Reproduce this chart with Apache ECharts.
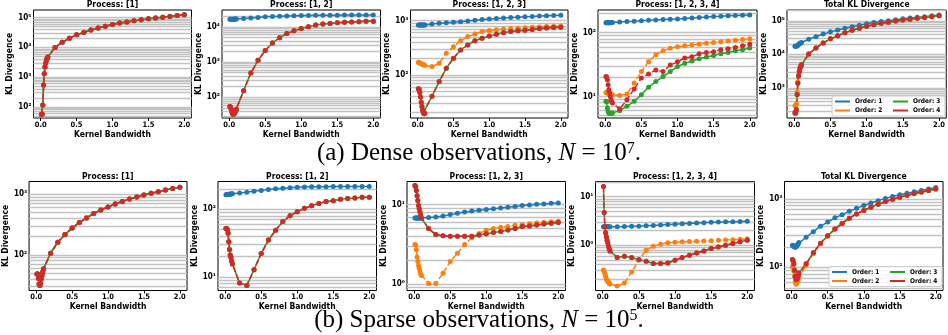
<!DOCTYPE html>
<html>
<head>
<meta charset="utf-8">
<script src="https://cdn.jsdelivr.net/npm/echarts@6/dist/echarts.min.js"></script>
<style>
  html, body { margin: 0; padding: 0; background: #fff; }
  #chart { width: 948px; height: 335px; }
</style>
</head>
<body>
<div id="chart"></div>
<script>
  // kernel bandwidths (x)
  const bandwidth = [0.01, 0.02, 0.03, 0.04, 0.05, 0.06, 0.07, 0.08, 0.09, 0.1,
    0.2, 0.3, 0.4, 0.5, 0.6, 0.7, 0.8, 0.9, 1.0, 1.1, 1.2, 1.3, 1.4, 1.5, 1.6, 1.7, 1.8, 1.9, 2.0];
  const xTicks = [0, 0.5, 1, 1.5, 2];
  const orderNames = ['Order: 1', 'Order: 2', 'Order: 3', 'Order: 4'];

  // (a) dense, N = 1e7
  const denseP1 = [55, 57, 115, 540, 1300, 2200, 3000, 3800, 4300, 4800,
    10000, 14800, 20500, 26500, 32000, 38500, 45000, 52000, 59000, 66000, 72000, 78500, 85000, 91500, 98000, 104000, 110000, 118000, 126000];
  const denseP12Order1 = [16300, 16300, 16300, 16400, 16400, 16500, 16500, 16600, 16600, 16700,
    17200, 17800, 18500, 19200, 19700, 20100, 20400, 20700, 20900, 21100, 21200, 21300, 21400, 21400, 21500, 21500, 21600, 21600, 21600];
  const denseP12Higher = [55, 52, 45, 37, 34, 33, 35, 38, 42, 46,
    155, 490, 1120, 2140, 3500, 4900, 6500, 7700, 9000, 10000, 11200, 12000, 12500, 13000, 13400, 13700, 14000, 14300, 14500];
  const denseP123Order1 = [833, 833, 833, 833, 834, 834, 835, 835, 836, 838,
    870, 900, 920, 935, 960, 990, 1020, 1050, 1075, 1100, 1120, 1145, 1165, 1185, 1200, 1220, 1240, 1255, 1270];
  const denseP123Order2 = [170, 168, 165, 162, 160, 158, 156, 154, 152, 150,
    142, 164, 250, 332, 427, 510, 570, 630, 660, 680, 700, 715, 728, 740, 755, 770, 782, 792, 800];
  const denseP123Higher = [55, 54, 47, 39, 31, 26, 22, 20, 19, 19.5,
    40, 75, 132, 203, 288, 356, 428, 475, 523, 560, 600, 630, 650, 670, 690, 715, 735, 750, 760];
  const denseP1234Order1 = [143, 143, 143, 143, 143, 143, 143, 144, 144, 144,
    147, 149, 151, 154, 156, 158, 160, 162, 164, 167, 170, 173, 175, 178, 180, 183, 185, 187, 189];
  const denseP1234Order2 = [11.5, 11.4, 11.3, 11.2, 11.1, 11.0, 10.9, 10.8, 10.7, 10.6,
    10.4, 10.9, 16.2, 24.5, 35, 45, 52, 57, 60, 62, 64, 66, 68, 70, 72, 74, 76, 78, 80];
  const denseP1234Order3 = [8.4, 8.2, 6.6, 5.8, 5.5, 5.4, 5.4, 5.4, 5.5, 5.5,
    6.0, 7.0, 8.4, 10.6, 14, 17.1, 20.5, 24.5, 29.4, 33, 36, 39, 41.5, 43.7, 46.5, 49, 52, 54, 57.5];
  const denseP1234Order4 = [20.5, 20.2, 18.2, 15.2, 12.7, 11.5, 10, 8.9, 8.3, 7.9,
    6.35, 8.9, 13.1, 19.4, 22.5, 26, 24.5, 31, 35, 40, 42, 46.5, 49, 50, 54, 56, 58.5, 62, 66];
  const denseTotalOrder1 = [17300, 17300, 17400, 17900, 18700, 19700, 20500, 21400, 21900, 22500,
    28200, 33600, 40100, 46800, 52800, 59700, 66600, 73900, 81100, 88400, 94500, 101100, 107700, 114300, 120900, 126900, 133000, 141000, 149000];
  const denseTotalOrder2 = [292, 288, 336, 750, 1510, 2400, 3200, 4000, 4510, 5010,
    10300, 15500, 21900, 29000, 36000, 44000, 52100, 60400, 68700, 76700, 84000, 91300, 98300, 105300, 112200, 118500, 124900, 133200, 141400];
  const denseTotalOrder3 = [173, 171, 214, 622, 1370, 2260, 3060, 3860, 4370, 4870,
    10200, 15400, 21800, 28900, 35800, 43800, 52000, 60200, 68600, 76600, 83800, 91200, 98200, 105200, 112100, 118500, 124800, 133100, 141300];
  const denseTotalOrder4 = [186, 183, 225, 630, 1380, 2270, 3070, 3870, 4370, 4870,
    10200, 15400, 21800, 28900, 35800, 43800, 52000, 60200, 68600, 76600, 83800, 91200, 98200, 105200, 112100, 118500, 124800, 133100, 141300];

  // (b) sparse, N = 1e5
  const sparseP1 = [48, 48, 41, 33, 31, 34, 40, 46, 52, 58,
    106, 161, 215, 277, 340, 405, 480, 550, 615, 690, 760, 830, 900, 970, 1040, 1100, 1170, 1240, 1300];
  const sparseP12Order1 = [164, 165, 165, 166, 166, 167, 167, 168, 169, 170,
    174, 179, 185, 190, 195, 200, 204, 208, 212, 214, 215, 215, 215, 216, 216, 216, 216, 216, 216];
  const sparseP12Higher = [52, 52, 50, 44, 33, 25.5, 21, 19.3, 17, 15.5,
    8.1, 7.5, 12.8, 22.2, 35, 49, 66, 80, 92, 103, 113, 122, 130, 134, 140, 144, 147, 150, 150];
  const sparseP123Order1 = [6.8, 6.8, 6.8, 6.8, 6.8, 6.8, 6.8, 6.8, 6.8, 6.8,
    6.9, 7.0, 7.2, 7.5, 7.8, 8.1, 8.3, 8.5, 8.7, 8.9, 9.1, 9.3, 9.5, 9.8, 9.9, 10.1, 10.2, 10.4, 10.5];
  const sparseP123Order2 = [3.16, 3.1, 2.7, 2.2, 1.92, 1.71, 1.58, 1.44, 1.33, 1.28,
    1.02, 1.02, 1.37, 1.92, 2.44, 3.16, 3.83, 4.33, 4.77, 5.0, 5.2, 5.3, 5.5, 5.6, 5.75, 5.9, 6.0, 6.1, 6.2];
  const sparseP123Higher = [17.4, 17, 15.1, 13, 11.3, 9.8, 8.9, 8.1, 7.4, 6.8,
    5.0, 4.2, 4.05, 4.0, 4.0, 4.0, 4.0, 4.15, 4.3, 4.45, 4.6, 4.8, 5.0, 5.3, 5.4, 5.55, 5.7, 5.85, 5.95];
  const sparseP1234Order1 = [2.4, 2.4, 2.4, 2.4, 2.4, 2.4, 2.4, 2.4, 2.4, 2.4,
    2.4, 2.42, 2.44, 2.45, 2.5, 2.55, 2.6, 2.65, 2.7, 2.75, 2.8, 2.85, 2.9, 2.95, 3.0, 3.02, 3.05, 3.08, 3.1];
  const sparseP1234Order2 = [0.31, 0.29, 0.26, 0.23, 0.2, 0.19, 0.18, 0.174, 0.165, 0.16,
    0.144, 0.166, 0.28, 0.5, 0.79, 0.95, 1.05, 1.12, 1.15, 1.17, 1.19, 1.2, 1.22, 1.24, 1.27, 1.28, 1.3, 1.32, 1.35];
  const sparseP1234Higher = [16.1, 4.7, 2.4, 1.8, 1.49, 1.27, 1.12, 0.95, 0.85, 0.76,
    0.56, 0.59, 0.56, 0.5, 0.47, 0.42, 0.42, 0.43, 0.49, 0.56, 0.62, 0.69, 0.76, 0.85, 0.92, 1.0, 1.08, 1.17, 1.27];
  const sparseTotalOrder1 = [211, 208, 203, 198, 197, 201, 207, 214, 222, 232,
    276, 333, 400, 460, 530, 590, 660, 730, 800, 875, 945, 1020, 1090, 1150, 1210, 1270, 1330, 1400, 1470];
  const sparseTotalOrder2 = [102, 100, 88, 74, 62, 57, 58, 62, 67, 72,
    108, 160, 222, 288, 364, 440, 525, 605, 681, 761, 841, 916, 991, 1061, 1131, 1201, 1266, 1331, 1401];
  const sparseTotalHigher = [130, 125, 112, 91, 74, 67, 67, 70, 76, 83,
    113, 164, 225, 290, 365, 440, 525, 605, 680, 760, 840, 915, 990, 1060, 1130, 1200, 1265, 1330, 1400];

  const colors = ['#1f77b4', '#ff7f0e', '#2ca02c', '#d62728'];
  const F = "'DejaVu Sans Condensed', 'DejaVu Sans', sans-serif";
  const SUP = '⁰¹²³⁴⁵⁶⁷⁸⁹';

  // box = [left, top, width, height]
  const panels = [
    {title: 'Process: [1]', box: [33.5, 10, 158, 108], yRange: [42, 182000], nameGap: 16,
      lines: [denseP1, denseP1, denseP1, denseP1]},
    {title: 'Process: [1, 2]', box: [222, 10, 158.5, 108], yRange: [26, 30000], nameGap: 17,
      lines: [denseP12Order1, denseP12Higher, denseP12Higher, denseP12Higher]},
    {title: 'Process: [1, 2, 3]', box: [410.5, 10, 157.5, 108], yRange: [15.9, 1580], nameGap: 15,
      lines: [denseP123Order1, denseP123Order2, denseP123Higher, denseP123Higher]},
    {title: 'Process: [1, 2, 3, 4]', box: [598, 10, 159, 108], yRange: [4.6, 226], nameGap: 14,
      lines: [denseP1234Order1, denseP1234Order2, denseP1234Order3, denseP1234Order4]},
    {title: 'Total KL Divergence', box: [787, 10, 159.5, 108], yRange: [126, 210000], nameGap: 14,
      lines: [denseTotalOrder1, denseTotalOrder2, denseTotalOrder3, denseTotalOrder4]},
    {title: 'Process: [1]', box: [28.5, 181.5, 158.5, 109], yRange: [25.7, 1620], nameGap: 14.5,
      lines: [sparseP1, sparseP1, sparseP1, sparseP1]},
    {title: 'Process: [1, 2]', box: [218, 181.5, 158.5, 109], yRange: [6.3, 257], nameGap: 15,
      lines: [sparseP12Order1, sparseP12Higher, sparseP12Higher, sparseP12Higher]},
    {title: 'Process: [1, 2, 3]', box: [407, 181.5, 158.5, 109], yRange: [0.83, 19.6], nameGap: 15.5,
      lines: [sparseP123Order1, sparseP123Order2, sparseP123Higher, sparseP123Higher]},
    {title: 'Process: [1, 2, 3, 4]', box: [595.5, 181.5, 159, 109], yRange: [0.117, 20.4], nameGap: 15.5,
      lines: [sparseP1234Order1, sparseP1234Order2, sparseP1234Higher, sparseP1234Higher]},
    {title: 'Total KL Divergence', box: [784.5, 181.5, 158.5, 109], yRange: [46, 1800], nameGap: 16.5,
      lines: [sparseTotalOrder1, sparseTotalOrder2, sparseTotalHigher, sparseTotalHigher]}
  ];

  function logLines(lo, hi, onlyMajor) {
    let out = [];
    for (let e = Math.floor(Math.log10(lo)); e <= Math.ceil(Math.log10(hi)); e++) {
      for (let m = 1; m <= (onlyMajor ? 1 : 9); m++) {
        let v = +(m * Math.pow(10, e)).toPrecision(6);
        if (v > lo && v < hi) out.push(v);
      }
    }
    return out;
  }

  function powLabel(v) {
    let l = Math.log10(v), e = Math.round(l);
    if (Math.abs(l - e) > 1e-6) return '';
    let s = String(Math.abs(e)).split('').map(d => SUP[+d]).join('');
    return '10' + (e < 0 ? '⁻' : '') + s;
  }

  let grids = [], xAxes = [], yAxes = [], series = [], graphics = [];
  panels.forEach((p, i) => {
    let [l, t, w, h] = p.box;
    grids.push({left: l, top: t, width: w, height: h, show: true, borderColor: '#000', borderWidth: 1, backgroundColor: '#fff'});
    xAxes.push({
      type: 'value', gridIndex: i, min: -0.1, max: 2.1,
      name: 'Kernel Bandwidth', nameLocation: 'middle', nameGap: 10,
      nameTextStyle: {fontFamily: F, fontWeight: 'bold', fontSize: 8.5, color: '#000'},
      axisLine: {show: false},
      axisTick: {show: true, length: 3, customValues: xTicks, lineStyle: {color: '#000'}},
      axisLabel: {customValues: xTicks, margin: 3, fontFamily: F, fontWeight: 'bold', fontSize: 7.5, color: '#000',
        formatter: v => Math.abs(v * 2 - Math.round(v * 2)) < 1e-6 ? v.toFixed(1) : ''},
      splitLine: {show: false}
    });
    let majors = logLines(p.yRange[0], p.yRange[1], true);
    yAxes.push({
      type: 'log', logBase: 10, gridIndex: i, min: p.yRange[0], max: p.yRange[1],
      name: 'KL Divergence', nameLocation: 'middle', nameGap: p.nameGap,
      nameTextStyle: {fontFamily: F, fontWeight: 'bold', fontSize: 8.5, color: '#000'},
      axisLine: {show: false},
      axisTick: {show: true, length: 2.5, customValues: majors, lineStyle: {color: '#000'}},
      axisLabel: {customValues: majors, margin: 2, fontFamily: F, fontWeight: 'bold', fontSize: 8, color: '#000',
        formatter: powLabel},
      splitLine: {show: false}
    });
    p.lines.forEach((vals, k) => {
      let s = {
        type: 'line', name: orderNames[k], xAxisIndex: i, yAxisIndex: i,
        data: bandwidth.map((x, j) => [x, vals[j]]),
        symbol: 'circle', symbolSize: 5, showAllSymbol: true,
        lineStyle: {color: colors[k], width: 1.5, type: k % 2 ? [5.5, 2.4] : 'solid'},
        itemStyle: {color: colors[k], borderWidth: 0},
        emphasis: {disabled: true}, z: 2, animation: false
      };
      if (k === 0) {
        s.markLine = {
          silent: true, symbol: 'none', z: 1, animation: false,
          label: {show: false},
          lineStyle: {color: '#c2c2c2', width: 1.3, type: 'solid'},
          data: logLines(p.yRange[0], p.yRange[1], false).map(v => ({yAxis: v}))
        };
      }
      series.push(s);
    });
    graphics.push({
      type: 'text', x: l + w / 2, y: t - 5, z: 10,
      style: {text: p.title, fontFamily: F, fontWeight: 'bold', fontSize: 8.5, fill: '#000',
        align: 'center', textAlign: 'center', verticalAlign: 'middle', textVerticalAlign: 'middle'}
    });
  });

  // legend frames
  graphics.push({type: 'rect', z: 3, shape: {x: 832, y: 96, width: 113, height: 20, r: 2},
    style: {fill: 'rgba(255,255,255,0.85)', stroke: '#cccccc', lineWidth: 1}});
  graphics.push({type: 'rect', z: 3, shape: {x: 829, y: 266.5, width: 113, height: 20, r: 2},
    style: {fill: 'rgba(255,255,255,0.85)', stroke: '#cccccc', lineWidth: 1}});

  // captions
  const capRich = {
    i: {fontFamily: 'Liberation Serif', fontStyle: 'italic', fontSize: 25, fill: '#000'},
    s: {fontFamily: 'Liberation Serif', fontSize: 16, verticalAlign: 'top', fill: '#000'}
  };
  graphics.push({type: 'text', x: 479, y: 153, z: 10,
    style: {text: '(a) Dense observations, {i|N} = 10{s|7}.', rich: capRich, fontFamily: 'Liberation Serif', fontSize: 25, fill: '#000',
      align: 'center', textAlign: 'center', verticalAlign: 'middle', textVerticalAlign: 'middle'}});
  graphics.push({type: 'text', x: 479, y: 320, z: 10,
    style: {text: '(b) Sparse observations, {i|N} = 10{s|5}.', rich: capRich, fontFamily: 'Liberation Serif', fontSize: 25, fill: '#000',
      align: 'center', textAlign: 'center', verticalAlign: 'middle', textVerticalAlign: 'middle'}});

  const legendBase = {
    orient: 'vertical', icon: 'rect', itemWidth: 15, itemHeight: 2, itemGap: 2, padding: 0,
    selectedMode: false, z: 4,
    itemStyle: {borderWidth: 0},
    textStyle: {fontFamily: F, fontWeight: 'bold', fontSize: 6.5, color: '#000'}
  };
  const legends = [
    Object.assign({}, legendBase, {data: ['Order: 1', 'Order: 2'], left: 835, top: 98}),
    Object.assign({}, legendBase, {data: ['Order: 3', 'Order: 4'], left: 893, top: 98}),
    Object.assign({}, legendBase, {data: ['Order: 1', 'Order: 2'], left: 832, top: 268.5}),
    Object.assign({}, legendBase, {data: ['Order: 3', 'Order: 4'], left: 890, top: 268.5})
  ];

  let chart = echarts.init(document.getElementById('chart'), null, {renderer: 'canvas'});
  chart.setOption({
    backgroundColor: '#fff',
    animation: false,
    grid: grids,
    xAxis: xAxes,
    yAxis: yAxes,
    legend: legends,
    graphic: graphics,
    series: series
  });
</script>
</body>
</html>
